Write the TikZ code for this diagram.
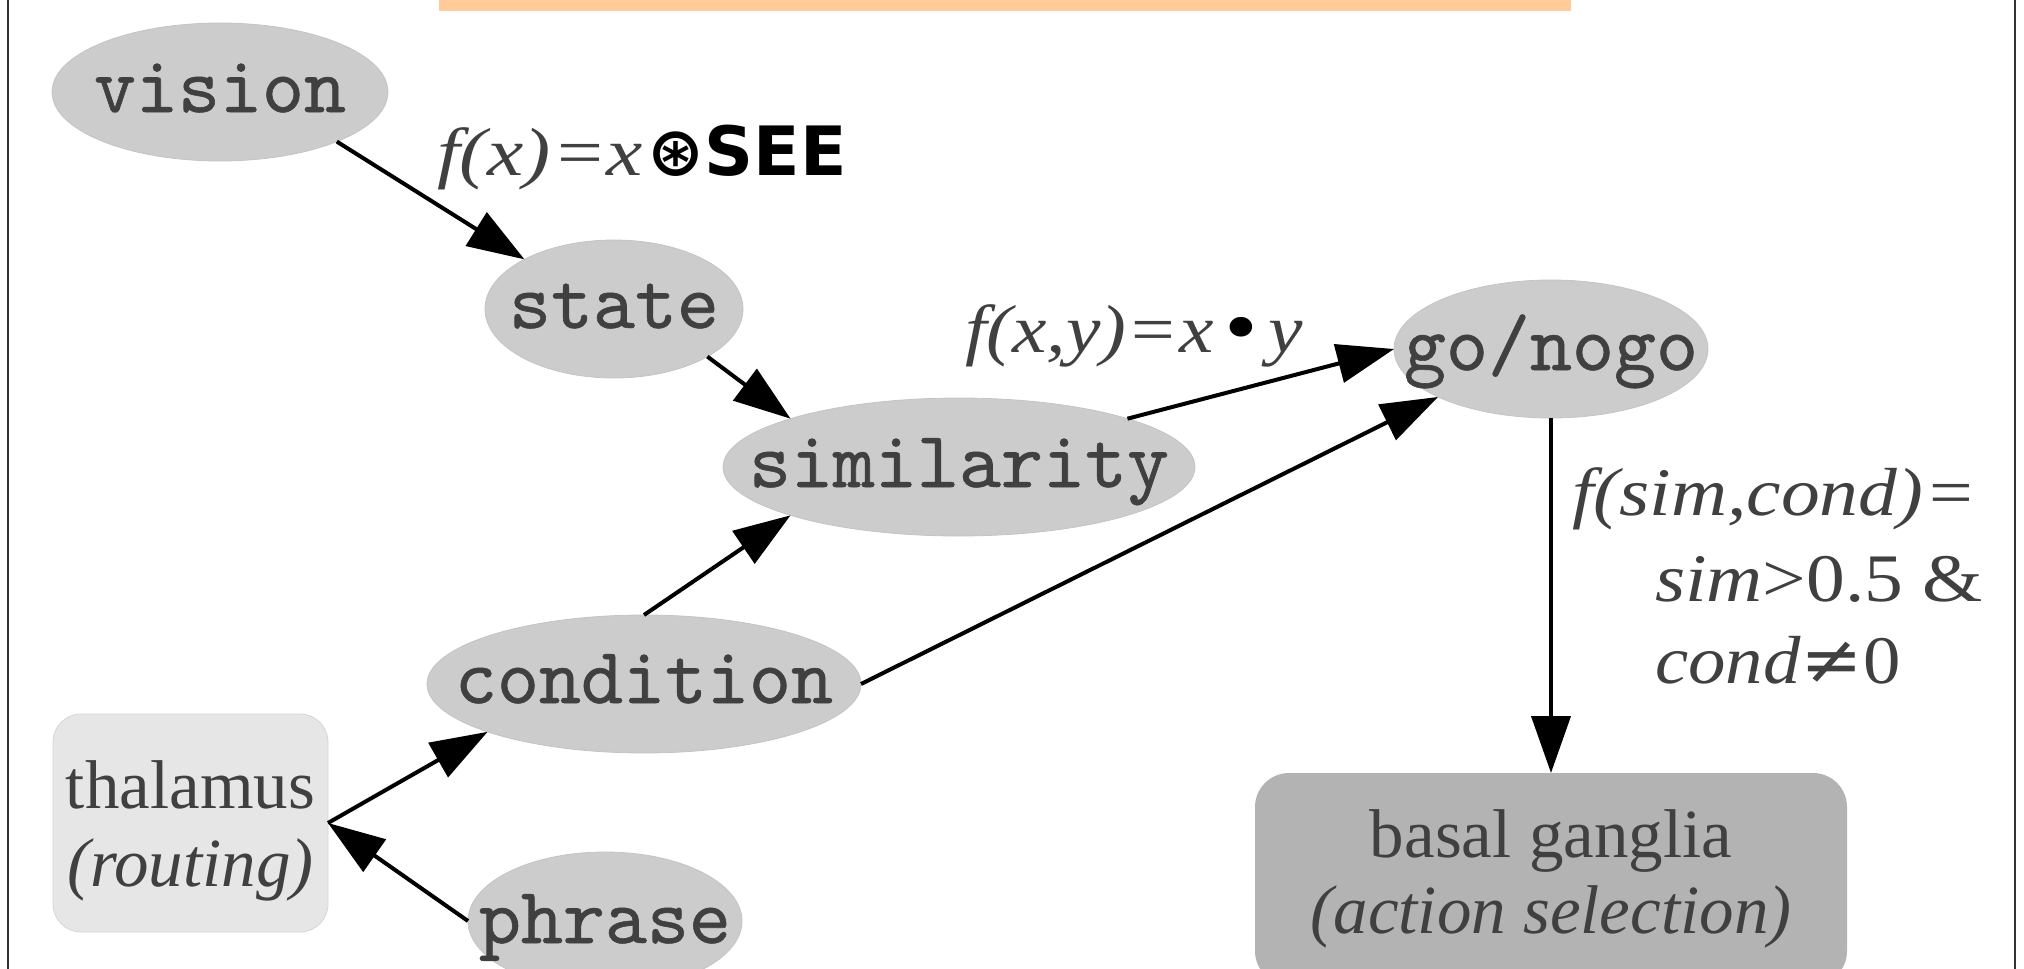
\documentclass[tikz,border=0pt]{standalone}
\usepackage{fontspec}
\usepackage{graphicx}
\setmainfont{Liberation Serif}
\newfontfamily\dejavu{DejaVu Sans}
\newfontfamily\monof{lmmono10-regular.otf}[FakeBold=0.7]
\usetikzlibrary{shapes.geometric,arrows.meta}
\definecolor{ellgray}{HTML}{CCCCCC}
\definecolor{ellborder}{HTML}{C4C4C4}
\definecolor{thalfill}{HTML}{E6E6E6}
\definecolor{thaldraw}{HTML}{D6D6D6}
\definecolor{basalfill}{HTML}{B3B3B3}
\definecolor{txtgray}{HTML}{404040}
\definecolor{barorange}{HTML}{FFCC99}
\definecolor{framegray}{HTML}{333333}
\newcommand{\wid}[2]{\scalebox{#1}[1]{#2}}
\tikzset{
  ell/.style={ellipse, fill=ellgray, draw=ellborder, line width=0.8pt, inner sep=0pt, outer sep=0pt, minimum height=138pt},
  roundbox/.style={rectangle, inner sep=0pt, outer sep=0pt},
  monotxt/.style={font=\monof\fontsize{80}{96}\selectfont, text=txtgray, anchor=base, inner sep=0pt},
  seriftxt/.style={font=\fontsize{69}{77}\selectfont, text=txtgray, anchor=base, inner sep=0pt},
  lbl/.style={font=\fontsize{68}{77}\selectfont, text=txtgray, anchor=base west, inner sep=0pt},
  arr/.style={line width=4pt, draw=black, -{Triangle[length=57pt,width=39pt]}}
}
\begin{document}
\begin{tikzpicture}[x=1pt,y=-1pt]
\useasboundingbox (0,0) rectangle (2024,969);
\clip (0,0) rectangle (2024,969);
% frame and top bar
\fill[barorange] (439,0) rectangle (1571,11);
\draw[framegray, line width=2pt] (7.5,-5) -- (7.5,975);
\draw[framegray, line width=2pt] (2015,-5) -- (2015,975);

% nodes
\node[ell, minimum width=336pt] (vision) at (220,92) {};
\node[ell, minimum width=258pt] (state) at (614,309) {};
\node[ell, minimum width=472pt] (similarity) at (959,467) {};
\node[ell, minimum width=314pt] (gonogo) at (1551,349) {};
\node[ell, minimum width=434pt] (condition) at (644,684) {};
\node[ell, minimum width=274pt] (phrase) at (605,921) {};
\node[roundbox, fill=thalfill, draw=thaldraw, line width=0.8pt, rounded corners=28pt,
      minimum width=275pt, minimum height=218pt] (thal) at (190.5,823) {};
\node[roundbox, fill=basalfill, rounded corners=34pt,
      minimum width=592pt, minimum height=212pt] (basal) at (1551,879) {};

% node texts
\node[monotxt] (tvision) at ([yshift=-20pt]vision.center) {vision};
\node[monotxt] (tstate) at ([yshift=-19pt]state.center) {state};
\node[monotxt] (tsim) at ([yshift=-20pt]similarity.center) {similarity};
\node[monotxt] (tgo) at ([yshift=-21pt]gonogo.center) {go/nogo};
\node[monotxt] (tcond) at ([yshift=-19pt]condition.center) {condition};
\node[monotxt] (tphrase) at ([yshift=-22pt]phrase.center) {phrase};
\node[seriftxt] (tthal1) at (190.5,808) {thalamus};
\node[seriftxt] (tthal2) at (190.5,886) {\textit{(routing)}};
\node[seriftxt] (tbas1) at (1551,857) {basal ganglia};
\node[seriftxt] (tbas2) at (1551,933) {\textit{(action selection)}};

% edges
\draw[arr] (vision.-23) -- (state.151);
\draw[arr] (state.-27) -- (similarity.164);
\draw[arr] (similarity.16) -- (gonogo.180);
\draw[arr] (condition.90) -- (similarity.196);
\draw[arr] (condition.0) -- (gonogo.203);
\draw[arr] (thal.east) -- (condition.197);
\draw[arr] (phrase.180) -- (thal.east);
\draw[arr] (gonogo.south) -- (basal.north);

% edge labels
\node[lbl] (l1a) at (437,175) {\wid{1.2}{\textit{f(x)}\kern6pt=\kern2pt\textit{x}}};
\node[font=\dejavu\bfseries\fontsize{68}{77}\selectfont, text=black, anchor=base east, inner sep=0pt] (l1b) at (847,175) {⊛SEE};
\node[lbl] (l2) at (965,352) {\wid{1.14}{\textit{f(x,y)}\kern4pt=\kern4pt\textit{x}\kern4pt{\color{black}\dejavu •}\kern4pt\textit{y}}};
\node[lbl] (l3a) at (1572,515) {\wid{1.14}{\textit{f(sim,cond)}\kern6pt=}};
\node[lbl] (l3b) at (1655,601) {\wid{1.14}{\textit{sim}>0.5 \&}};
\node[lbl] (l3c) at (1655,683) {\wid{1.1}{\textit{cond}{\dejavu ≠}0}};
\end{tikzpicture}
\end{document}
